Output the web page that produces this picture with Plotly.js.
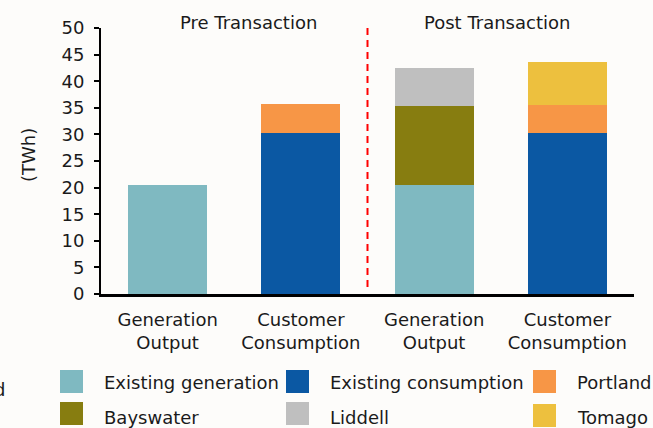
<!DOCTYPE html>
<html>
<head>
<meta charset="utf-8">
<script src="https://cdn.plot.ly/plotly-3.0.1.min.js"></script>
<style>
html,body{margin:0;padding:0;background:#fdfcfa;}
#chart{width:653px;height:428px;}
</style>
</head>
<body>
<div id="chart"></div>
<script>
// ---- Data ----
var categoryPositions = [0, 1, 2, 3];
var tickLabels = ["Generation<br>Output", "Customer<br>Consumption", "Generation<br>Output", "Customer<br>Consumption"];
var seriesNames = ["Existing generation", "Existing consumption", "Portland", "Bayswater", "Liddell", "Tomago"];
var existingGeneration = [20.5, 0, 20.5, 0];
var existingConsumption = [0, 30.3, 0, 30.3];
var portland = [0, 5.4, 0, 5.2];
var bayswater = [0, 0, 14.8, 0];
var liddell = [0, 0, 7.2, 0];
var tomago = [0, 0, 0, 8.1];
var sectionTitles = ["Pre Transaction", "Post Transaction"];
var yTickValues = [0, 5, 10, 15, 20, 25, 30, 35, 40, 45, 50];

// ---- Styles ----
var colors = ["#7fb9c1", "#0b58a3", "#f79646", "#877d10", "#bfbfbf", "#edc03e"];
var seriesValues = [existingGeneration, existingConsumption, portland, bayswater, liddell, tomago];
var FONT = "DejaVu Sans, Verdana, sans-serif";
var TXT = "#1a1a1a";

var W = 653, H = 428;
var L = 101, R = 19, T = 28, B = 134;
var pw = W - L - R, ph = H - T - B;
function px(x){ return (x - L) / pw; }
function py(y){ return (H - B - y) / ph; }

var traces = seriesNames.map(function(name, i){
  return {
    type: "bar",
    name: name,
    x: categoryPositions,
    y: seriesValues[i],
    width: 0.594,
    marker: {color: colors[i], line: {width: 0}},
    hoverinfo: "name+y",
    showlegend: false
  };
});

var shapes = [{
  type: "line", xref: "x", yref: "paper",
  x0: 1.5, x1: 1.5, y0: py(287), y1: py(25),
  line: {color: "#ff0000", width: 2, dash: "7px,5px"}
}];
var annotations = [
  {text: sectionTitles[0], xref: "paper", yref: "paper", x: px(248), y: py(23),
   xanchor: "center", yanchor: "middle", showarrow: false, font: {family: FONT, size: 18, color: TXT}},
  {text: sectionTitles[1], xref: "paper", yref: "paper", x: px(497), y: py(22),
   xanchor: "center", yanchor: "middle", showarrow: false, font: {family: FONT, size: 18, color: TXT}},
  {text: "(TWh)", xref: "paper", yref: "paper", x: px(28), y: py(155), textangle: -90,
   xanchor: "center", yanchor: "middle", showarrow: false, font: {family: FONT, size: 18, color: TXT}},
  {text: "d", xref: "paper", yref: "paper", x: px(7), y: py(389),
   xanchor: "right", yanchor: "middle", showarrow: false, font: {family: FONT, size: 18, color: TXT}}
];

// manual legend
var legendCols = [[60, 102], [286, 328], [533, 575]];
var legendRows = [[370, 382], [402, 417]];
seriesNames.forEach(function(name, i){
  var c = legendCols[i % 3], r = legendRows[Math.floor(i / 3)];
  var top = r[0], ty = r[1];
  if (i === 5) { top = 404; ty = 418; }
  shapes.push({type: "rect", xref: "paper", yref: "paper",
    x0: px(c[0]), x1: px(c[0] + 23), y0: py(top + 23), y1: py(top),
    fillcolor: colors[i], line: {width: 0}});
  annotations.push({text: name, xref: "paper", yref: "paper", x: px(c[1]), y: py(ty),
    xanchor: "left", yanchor: "middle", showarrow: false,
    font: {family: FONT, size: 18, color: TXT}});
});

var layout = {
  width: W, height: H,
  margin: {l: L, r: R, t: T, b: B, pad: 0},
  paper_bgcolor: "#fdfcfa",
  plot_bgcolor: "#fdfcfa",
  barmode: "stack",
  showlegend: false,
  font: {family: FONT, size: 18, color: TXT},
  xaxis: {
    range: [-0.5, 3.5],
    tickmode: "array",
    tickvals: categoryPositions,
    ticktext: tickLabels,
    showgrid: false, zeroline: false,
    showline: true, linecolor: "#000", linewidth: 3,
    ticks: "", fixedrange: true,
    ticklabelstandoff: 7,
    tickfont: {family: FONT, size: 18, color: TXT}
  },
  yaxis: {
    range: [0, 50],
    tickmode: "array",
    tickvals: yTickValues,
    showgrid: false, zeroline: false,
    showline: true, linecolor: "#000", linewidth: 2,
    ticks: "outside", ticklen: 5, tickwidth: 2, tickcolor: "#000",
    ticklabelstandoff: 6,
    tickfont: {family: FONT, size: 18, color: TXT},
    fixedrange: true
  },
  shapes: shapes,
  annotations: annotations
};

Plotly.newPlot("chart", traces, layout, {displayModeBar: false, staticPlot: true});
</script>
</body>
</html>
